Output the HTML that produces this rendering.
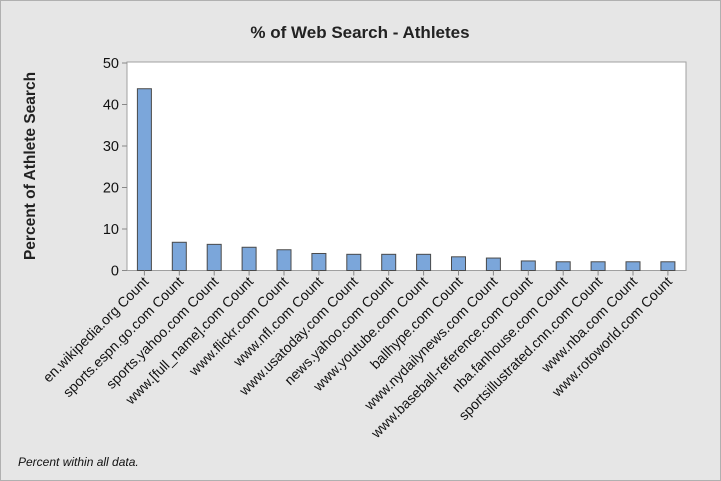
<!DOCTYPE html>
<html><head><meta charset="utf-8"><style>
body{margin:0;background:#e6e6e6;}
svg{display:block;font-family:"Liberation Sans",sans-serif;}
</style></head><body>
<svg id="c" width="721" height="481">
<rect x="0.5" y="0.5" width="720" height="480" fill="#e6e6e6" stroke="#b0b0b0"/>
<text x="360" y="38" text-anchor="middle" font-size="17" font-weight="bold" fill="#222">% of Web Search - Athletes</text>
<rect x="127" y="62" width="559" height="208.5" fill="#fff" stroke="#a0a0a0"/>
<text transform="translate(35,166) rotate(-90)" text-anchor="middle" font-size="15.5" font-weight="bold" fill="#222">Percent of Athlete Search</text>
<text x="18" y="466" font-size="12" font-style="italic" fill="#111">Percent within all data.</text>
<g id="g"></g>
</svg>
<script>
const categories=["en.wikipedia.org Count","sports.espn.go.com Count","sports.yahoo.com Count","www.[full_name].com Count","www.flickr.com Count","www.nfl.com Count","www.usatoday.com Count","news.yahoo.com Count","www.youtube.com Count","ballhype.com Count","www.nydailynews.com Count","www.baseball-reference.com Count","nba.fanhouse.com Count","sportsillustrated.cnn.com Count","www.nba.com Count","www.rotoworld.com Count"];
const values=[43.8,6.8,6.3,5.6,5.0,4.1,3.9,3.9,3.9,3.3,3.0,2.3,2.1,2.1,2.1,2.1];
const yTicks=[0,10,20,30,40,50];
const g=document.getElementById('g');const NS="http://www.w3.org/2000/svg";
const y0=270.5,y1=63;const yS=v=>y0-(y0-y1)*v/50;
const xS=i=>144.4+i*34.9;
function mk(t,a){const e=document.createElementNS(NS,t);for(const k in a)e.setAttribute(k,a[k]);g.appendChild(e);return e;}
yTicks.forEach(v=>{
const l=mk('line',{x1:122,x2:127,y1:yS(v),y2:yS(v),stroke:'#888'});


const t=mk('text',{x:119,y:yS(v)+5,'text-anchor':'end','font-size':14.5,fill:'#111'});t.textContent=v;


});
categories.forEach((c,i)=>{
const x=xS(i);
const b=mk('rect',{x:x-7,y:yS(values[i]),width:14,height:y0-yS(values[i]),fill:'#7ba6da',stroke:'#4a4a4a','stroke-width':1});


const tk=mk('line',{x1:x,x2:x,y1:y0,y2:y0+5,stroke:'#888'});


const t=mk('text',{transform:`translate(${x+5},${y0+12}) rotate(-45)`,'text-anchor':'end','font-size':14,fill:'#111'});t.textContent=c;


});
</script>
</body></html>
